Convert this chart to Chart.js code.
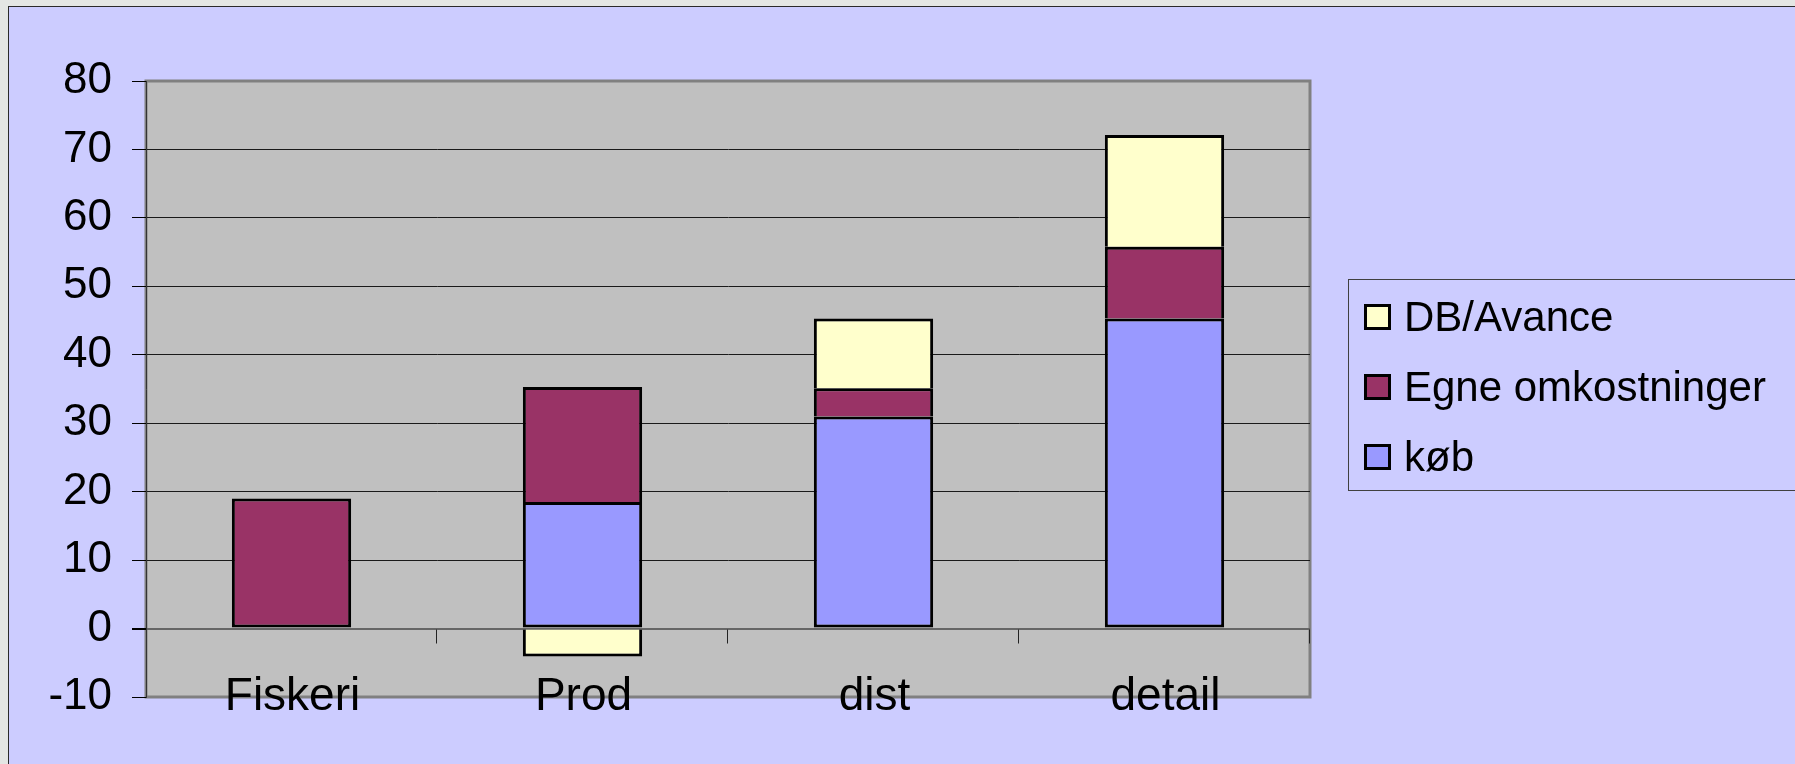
<!DOCTYPE html>
<html>
<head>
<meta charset="utf-8">
<title>Værdikæde</title>
<script src="https://cdn.jsdelivr.net/npm/chart.js@4.4.1/dist/chart.umd.min.js"></script>
<style>
body {
    margin: 0;
    width: 1795px;
    height: 764px;
    overflow: hidden;
    position: relative;
    background: #e4e6e4;
    font-family: "Liberation Sans", Arial, sans-serif;
}
#frame {
    position: absolute;
    left: 8px;
    top: 6px;
    right: 0;
    bottom: 0;
    background: #ccccff;
    border-left: 1px solid #2a2a2a;
    border-top: 1px solid #2a2a2a;
}
#chart {
    position: absolute;
    left: 0;
    top: 0;
}
#legend {
    position: absolute;
    left: 1348px;
    top: 279px;
    width: 520px;
    height: 210px;
    border: 1px solid #404040;
}
.legend-row {
    position: absolute;
    left: 15px;
    height: 70px;
    display: flex;
    align-items: center;
    font-size: 42px;
    color: #000;
    white-space: nowrap;
}
.legend-box {
    width: 27px;
    height: 26px;
    box-sizing: border-box;
    border: 3px solid #000;
    margin-right: 13px;
}
</style>
</head>
<body>
<div id="frame"></div>
<canvas id="chart" width="1795" height="764"></canvas>
<div id="legend"></div>

<script>
const categories = ["Fiskeri", "Prod", "dist", "detail"];
const kob = [0, 18.5, 31, 45.3];
const egneOmkostninger = [19, 16.8, 4.1, 10.5];
const dbAvance = [0, -4.1, 10.2, 16.3];
const yTicks = [-10, 0, 10, 20, 30, 40, 50, 60, 70, 80];

const seriesNames = ["køb", "Egne omkostninger", "DB/Avance"];
const seriesColors = ["#9999ff", "#993366", "#ffffcc"];

const fontFamily = "'Liberation Sans', Arial, sans-serif";

const plotArea = {
    id: "plotArea",
    // grey plot area with its border, under the grid
    beforeDraw(chart) {
        const { ctx, chartArea: a } = chart;
        ctx.save();
        ctx.fillStyle = "#c0c0c0";
        ctx.fillRect(a.left, a.top, a.right - a.left, a.bottom - a.top);
        ctx.strokeStyle = "#808080";
        ctx.lineWidth = 3;
        ctx.strokeRect(a.left, a.top, a.right - a.left, a.bottom - a.top);
        ctx.restore();
    },
    // small tick marks between categories, hanging from the zero line
    beforeDatasetsDraw(chart) {
        const { ctx, scales } = chart;
        const x = scales.x, y = scales.y;
        const zero = Math.round(y.getPixelForValue(0)) + 0.5;
        const step = (x.right - x.left) / categories.length;
        ctx.save();
        ctx.strokeStyle = "#222";
        ctx.lineWidth = 1;
        ctx.beginPath();
        for (let i = 1; i <= categories.length; i++) {
            const px = Math.round(x.left + step * i) - 0.5;
            ctx.moveTo(px, zero);
            ctx.lineTo(px, zero + 14);
        }
        ctx.stroke();
        ctx.restore();
    },
    // category names sit low, across the bottom edge of the plot
    afterDraw(chart) {
        const { ctx, scales, chartArea: a } = chart;
        const x = scales.x;
        ctx.save();
        ctx.fillStyle = "#000";
        ctx.font = "46px " + fontFamily;
        ctx.textAlign = "center";
        ctx.textBaseline = "alphabetic";
        categories.forEach((name, i) => {
            ctx.fillText(name, x.getPixelForValue(i) + 1, a.bottom + 13);
        });
        ctx.restore();
    }
};

const ctx = document.getElementById("chart");

new Chart(ctx, {
    type: "bar",
    data: {
        labels: categories,
        datasets: [
            {
                label: seriesNames[0],
                data: kob,
                backgroundColor: seriesColors[0],
                borderSkipped: false
            },
            {
                label: seriesNames[1],
                data: egneOmkostninger,
                backgroundColor: seriesColors[1],
                borderSkipped: (c) => kob[c.dataIndex] ? "start" : false
            },
            {
                label: seriesNames[2],
                data: dbAvance,
                backgroundColor: seriesColors[2],
                borderSkipped: "start"
            }
        ]
    },
    options: {
        responsive: false,
        animation: false,
        devicePixelRatio: 1,
        layout: {
            padding: { left: 0, top: 81, right: 485, bottom: 0 }
        },
        datasets: {
            bar: {
                borderColor: "#000",
                borderWidth: 3,
                barPercentage: 0.41,
                categoryPercentage: 1
            }
        },
        plugins: {
            legend: { display: false },
            tooltip: { enabled: false }
        },
        scales: {
            x: {
                stacked: true,
                grid: { display: false },
                border: { display: false },
                ticks: { display: false },
                afterFit: (s) => { s.height = 67; }
            },
            y: {
                stacked: true,
                min: yTicks[0],
                max: yTicks[yTicks.length - 1],
                afterBuildTicks: (s) => { s.ticks = yTicks.map(v => ({ value: v })); },
                grid: {
                    color: (c) => {
                        const v = c.tick.value;
                        if (v === yTicks[0] || v === yTicks[yTicks.length - 1]) return "rgba(0,0,0,0)";
                        if (v === 0) return "#666";
                        return "#1a1a1a";
                    },
                    lineWidth: (c) => c.tick.value === 0 ? 2 : 1,
                    tickColor: "#000",
                    tickLength: 14
                },
                border: { display: true, color: "#333", width: 1 },
                ticks: {
                    color: "#000",
                    padding: 20,
                    font: { family: fontFamily, size: 44 }
                },
                afterFit: (s) => { s.width = 146; }
            }
        }
    },
    plugins: [plotArea]
});

// legend, in the same reversed order as the stack
const legend = document.getElementById("legend");
for (let i = seriesNames.length - 1, row = 0; i >= 0; i--, row++) {
    const item = document.createElement("div");
    item.className = "legend-row";
    item.style.top = (2 + row * 70) + "px";
    const box = document.createElement("span");
    box.className = "legend-box";
    box.style.background = seriesColors[i];
    const text = document.createElement("span");
    text.textContent = seriesNames[i];
    item.appendChild(box);
    item.appendChild(text);
    legend.appendChild(item);
}
</script>
</body>
</html>
